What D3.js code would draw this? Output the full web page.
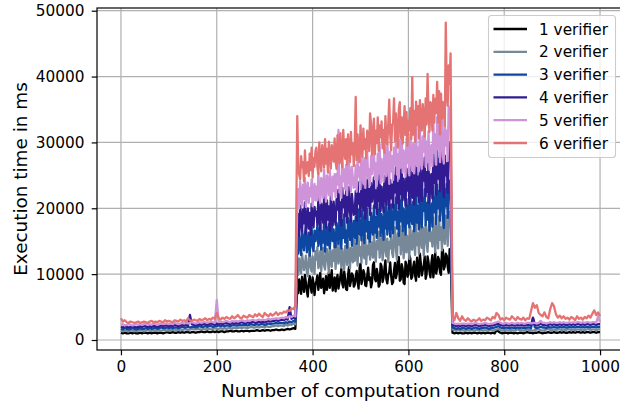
<!DOCTYPE html>
<html>
<head>
<meta charset="utf-8">
<script src="https://cdn.jsdelivr.net/npm/d3@7"></script>
<style>
  body { margin: 0; background: #fff; }
  text { font-family: "DejaVu Sans", sans-serif; fill: #000; }
</style>
</head>
<body>
<div id="chart"></div>
<script>
// rounds: every 4 rounds in the quiet parts, every 2 rounds in the busy part
const rounds = d3.range(0, 368, 4).concat(d3.range(368, 689, 2), d3.range(692, 1001, 4));
const unit = 100; // values below are in units of 100 ms

const labels = ["1 verifier", "2 verifier", "3 verifier", "4 verifier", "5 verifier", "6 verifier"];
const colors = ["#000000", "#778899", "#0d47a1", "#311b92", "#ce93d8", "#e57373"];

const s1 = [
  11,10,11,10,10,11,10,11,10,10, 11,10,11,11,10,11,10,11,11,10, 11,11,10,11,12,11,11,12,11,11,
  12,11,12,11,12,12,11,12,12,11, 12,12,13,12,12,13,12,12,13,12, 13,12,13,13,12,13,13,14,13,13,
  14,13,13,14,13,14,14,13,14,14, 14,15,14,14,15,14,15,15,14,15, 15,16,15,15,16,15,16,17,16,17,
  18,17,
  78,71,92,84,70,96,85,73,99,87,74,66,88,97,81,72,95,86,68,83,
  90,98,76,87,102,79,84,93,71,80,97,76,88,103,79,91,106,75,83,95,
  74,89,99,78,87,96,108,85,80,104,93,77,76,98,111,82,89,101,98,81,
  84,96,105,88,78,109,116,85,92,106,101,83,82,97,110,91,95,80,87,114,
  118,93,89,108,99,81,84,116,112,88,94,109,121,92,86,99,103,118,97,85,
  88,106,117,94,101,122,126,90,92,115,108,87,85,119,114,96,99,128,124,93,
  96,111,119,98,90,125,107,96,131,116,98,106,113,127,93,100,127,118,104,95,
  117,129,95,110,133,101,108,126,122,103,99,135,137,107,112,131,128,111,102,138,
  135,
  11,10,11,10,11,10,10,11,10,11, 10,11,11,10,11,10,11,10,11,11, 10,11,10,15,13,11,10,11,11,10,
  11,11,10,11,10,11,11,10,11,12, 11,11,10,11,11,12,11,10,11,11, 12,11,11,12,11,11,12,11,12,11,
  11,12,11,12,11,12,12,11,12,11, 12,12,11,12,12,11,12,12
];

const s2 = [
  14,13,14,14,13,15,14,13,14,14, 15,14,13,14,15,14,14,15,14,14, 15,14,15,15,14,16,15,15,16,15,
  15,16,15,16,16,15,16,17,16,16, 17,16,16,17,16,17,17,16,17,18, 17,17,18,17,18,17,18,18,17,19,
  18,18,19,18,19,19,18,19,20,19, 19,20,19,20,20,19,21,20,20,21, 21,22,21,22,22,21,23,22,24,23,
  25,24,
  108,99,124,113,101,131,119,106,115,128,103,97,122,133,110,104,127,118,100,135,
  122,141,109,117,135,104,126,140,113,107,131,138,119,102,143,125,111,136,120,144,
  108,130,147,116,125,149,110,138,121,107,143,133,114,150,127,109,140,131,118,152,
  120,146,134,113,157,128,141,117,153,136,124,159,115,143,130,155,122,138,148,125,
  161,131,119,150,138,164,125,147,157,121,134,166,142,127,154,118,149,139,163,132,
  126,158,171,137,122,162,145,173,130,152,167,124,141,169,133,158,148,123,172,140,
  137,166,151,129,178,144,162,131,180,155,140,171,128,160,176,147,134,169,181,150,
  163,142,186,158,133,175,168,139,188,152,171,136,184,160,146,189,176,143,180,195,
  190,
  16,15,14,15,14,15,14,14,15,14, 15,14,15,15,14,15,14,15,14,15, 15,14,15,16,17,15,14,15,15,14,
  15,15,14,15,16,15,15,14,15,16, 15,15,14,15,16,16,15,14,15,16, 17,15,15,16,15,16,16,15,16,15,
  16,16,15,16,15,16,16,15,16,15, 16,17,15,16,16,15,16,16
];

const s3 = [
  17,16,18,17,16,17,18,17,16,17, 18,17,17,18,17,18,17,18,18,17, 18,19,18,18,19,18,19,18,19,19,
  18,19,20,19,19,20,19,20,20,19, 20,21,20,20,21,20,21,21,20,21, 21,22,21,22,21,22,22,21,22,23,
  22,22,23,22,23,23,22,23,24,23, 23,24,23,24,24,23,24,25,24,25, 25,26,25,26,26,25,27,26,28,27,
  29,28,
  140,131,158,147,129,167,152,136,161,172,133,145,163,128,155,170,142,135,166,150,
  160,174,143,152,179,137,165,148,183,134,157,171,144,176,139,162,181,150,168,141,
  141,178,162,146,189,170,139,182,155,191,148,166,140,185,174,152,190,143,169,181,
  155,187,146,172,198,160,183,151,196,176,147,190,165,200,154,179,149,193,170,160,
  204,163,187,155,197,172,208,158,191,178,152,201,169,210,160,186,199,157,206,175,
  162,205,183,216,169,195,158,212,180,218,165,200,188,160,214,177,204,171,219,186,
  176,210,165,192,227,178,204,168,223,187,171,215,196,229,174,208,183,225,166,199,
  207,172,234,194,217,176,236,200,226,181,213,238,190,170,229,203,237,185,221,242,
  238,
  19,18,17,18,17,18,18,17,18,18, 17,18,19,18,17,18,18,19,18,17, 18,18,19,20,21,19,18,18,19,18,
  18,19,18,18,19,18,19,18,18,19, 19,18,33,19,18,19,20,19,19,18, 20,19,19,20,19,19,20,19,20,19,
  19,20,19,20,19,20,20,19,20,19, 20,20,19,20,20,19,20,20
];

const s4 = [
  20,19,21,20,19,20,21,20,19,20, 21,20,21,21,20,21,20,22,21,20, 21,22,21,22,22,21,22,21,23,22,
  21,22,23,22,23,22,38,24,23,22, 23,24,23,24,24,23,24,25,24,23, 25,24,25,24,25,26,25,24,26,25,
  26,25,26,27,26,25,27,26,27,28, 26,27,28,27,28,27,28,29,28,29, 29,30,29,30,31,30,32,31,50,32,
  34,33,
  172,191,158,204,183,165,198,177,209,161,186,200,169,193,160,207,180,171,202,189,
  195,175,216,186,167,207,199,178,220,190,170,212,183,203,166,218,192,174,210,185,
  175,214,198,228,183,209,174,231,202,219,188,226,178,211,232,194,180,222,205,190,
  192,226,181,240,207,222,187,241,213,197,235,184,218,243,203,229,190,238,210,224,
  247,201,227,191,240,211,252,196,233,217,194,249,222,205,254,230,199,243,215,236,
  201,249,224,262,208,238,199,258,221,264,212,245,231,203,260,227,250,206,266,236,
  216,254,206,233,274,219,248,209,270,230,211,263,242,277,218,255,225,272,208,246,
  252,215,284,238,264,220,287,245,275,226,261,289,232,217,280,250,268,224,292,300,
  300,
  23,22,21,22,21,22,22,21,22,22, 21,22,23,22,21,22,22,23,22,21, 22,22,23,24,25,23,22,22,23,22,
  22,23,22,22,23,22,23,22,22,23, 23,22,34,23,22,23,25,23,23,22, 23,24,23,24,23,23,24,23,24,23,
  23,24,23,24,23,24,24,23,24,23, 24,24,23,24,24,23,24,24
];

const s5 = [
  23,24,22,23,24,23,22,23,24,23, 24,23,24,24,23,24,23,25,24,23, 24,25,24,25,25,24,25,24,26,25,
  24,25,26,25,26,25,26,27,26,25, 26,27,26,27,27,26,27,28,27,26, 61,27,28,27,28,29,28,27,29,28,
  29,28,29,30,29,28,30,29,30,31, 29,30,31,30,31,30,31,32,31,32, 32,33,32,33,34,33,35,34,36,35,
  37,36,
  210,229,200,241,219,204,236,214,246,202,225,239,208,231,218,244,203,227,237,212,
  233,212,254,224,208,246,237,216,259,229,210,250,241,220,257,231,213,248,226,252,
  217,252,236,319,224,248,216,270,241,259,229,266,220,255,272,238,226,263,247,231,
  233,265,225,282,248,262,229,283,254,238,276,231,268,286,245,259,235,279,252,270,
  290,244,268,234,283,253,297,238,275,259,240,292,264,249,299,271,237,286,256,279,
  243,292,266,308,251,282,245,304,262,311,254,288,274,248,306,269,296,250,313,279,
  258,298,253,277,322,264,292,256,320,275,260,309,286,325,263,301,270,317,258,290,
  296,264,335,284,312,266,338,290,326,270,305,337,278,268,330,295,318,272,355,340,
  330,
  26,25,24,25,24,25,25,24,25,25, 24,25,26,25,24,25,25,26,25,24, 25,25,26,27,28,26,25,25,26,25,
  25,26,25,25,26,25,26,25,25,26, 26,25,26,26,25,26,29,26,26,25, 26,27,26,27,26,26,27,26,27,26,
  26,27,26,27,26,27,27,26,27,26, 27,27,26,27,27,26,36,27
];

const s6 = [
  33,28,30,27,26,28,27,26,27,28, 26,27,28,27,26,28,29,27,28,27, 29,28,27,30,28,29,28,27,30,29,
  28,31,29,30,28,33,30,29,31,30, 29,32,30,31,33,30,32,31,34,32, 41,33,31,34,32,35,33,32,36,33,
  35,38,34,33,37,35,34,38,36,35, 39,36,40,37,35,41,38,36,40,37, 39,42,38,41,40,43,42,45,44,48,
  47,52,
  340,265,251,244,279,262,270,241,288,253,259,270,249,283,258,292,247,276,263,287,
  292,263,252,300,274,256,296,281,262,305,268,290,254,301,278,260,296,285,271,306,
  271,260,311,285,268,314,279,262,319,290,275,305,266,312,288,270,316,282,298,264,
  300,369,273,312,284,270,326,295,278,321,290,305,276,318,300,287,344,329,281,310,
  336,282,318,299,338,287,326,308,332,291,319,284,340,305,297,329,365,312,288,327,
  329,367,302,344,315,292,350,361,307,338,298,327,355,311,346,295,333,318,352,305,
  399,312,348,301,362,326,355,306,364,333,318,358,340,309,367,327,404,345,316,361,
  358,318,372,330,366,345,392,330,378,312,374,336,361,348,325,482,372,356,417,389,
  435,
  38,30,41,33,29,36,31,29,33,30, 28,31,29,30,33,29,31,30,34,32, 30,35,33,41,38,31,33,30,34,32,
  31,36,33,30,35,32,31,34,30,33, 32,44,56,49,53,41,38,36,42,35, 33,47,56,51,39,34,37,33,36,32,
  34,31,35,33,30,36,32,34,31,35, 33,37,34,40,45,38,42,36
];

const series = [s1, s2, s3, s4, s5, s6];

const xTicks = [0, 200, 400, 600, 800, 1000];
const yTicks = [0, 10000, 20000, 30000, 40000, 50000];

// figure size and margins
const W = 620, H = 405;
const margin = { top: 8, right: -4, bottom: 55, left: 97 };
const width = W - margin.left - margin.right,
  height = H - margin.top - margin.bottom;

const svg = d3
  .select("#chart")
  .append("svg")
  .attr("width", W)
  .attr("height", H);

const g = svg
  .append("g")
  .attr("transform", "translate(" + margin.left + "," + margin.top + ")");

const x = d3.scaleLinear().domain([-50, 1050]).range([0, width]);
const y = d3.scaleLinear().domain([-1518, 50410]).range([height, 0]);

// grid
g.append("g")
  .selectAll("line")
  .data(xTicks)
  .enter()
  .append("line")
  .attr("x1", (d) => x(d))
  .attr("x2", (d) => x(d))
  .attr("y1", 0)
  .attr("y2", height)
  .attr("stroke", "#b0b0b0")
  .attr("stroke-width", 1.2);

g.append("g")
  .selectAll("line")
  .data(yTicks)
  .enter()
  .append("line")
  .attr("x1", 0)
  .attr("x2", width)
  .attr("y1", (d) => y(d))
  .attr("y2", (d) => y(d))
  .attr("stroke", "#b0b0b0")
  .attr("stroke-width", 1.2);

// lines
const line = d3
  .line()
  .x((d, i) => x(rounds[i]))
  .y((d) => y(d * unit));

g.append("g")
  .selectAll("path")
  .data(series)
  .enter()
  .append("path")
  .attr("d", (d) => line(d))
  .attr("fill", "none")
  .attr("stroke", (d, i) => colors[i])
  .attr("stroke-width", 2.3)
  .attr("stroke-linejoin", "round");

// axes
const xAxis = g
  .append("g")
  .attr("transform", "translate(0," + height + ")")
  .call(d3.axisBottom(x).tickValues(xTicks).tickFormat(d3.format("d")).tickSize(5.3).tickPadding(5.6));

const yAxis = g
  .append("g")
  .call(d3.axisLeft(y).tickValues(yTicks).tickFormat(d3.format("d")).tickSize(5.3).tickPadding(7.3));

[xAxis, yAxis].forEach((a) => {
  a.select(".domain").remove();
  a.selectAll("line").attr("stroke", "#000").attr("stroke-width", 1.2);
  a.selectAll("text").style("font-size", "15.3px").style("font-family", "DejaVu Sans");
});

// spines (right one falls outside the picture)
g.append("rect")
  .attr("x", 0)
  .attr("y", 0)
  .attr("width", width)
  .attr("height", height)
  .attr("fill", "none")
  .attr("stroke", "#000")
  .attr("stroke-width", 1.2);

// axis labels
svg
  .append("text")
  .attr("x", margin.left + width / 2)
  .attr("y", 396.5)
  .attr("text-anchor", "middle")
  .style("font-size", "18.4px")
  .text("Number of computation round");

svg
  .append("text")
  .attr("transform", "translate(26.5," + (margin.top + height / 2) + ") rotate(-90)")
  .attr("text-anchor", "middle")
  .style("font-size", "18.4px")
  .text("Execution time in ms");

// legend
const legend = svg.append("g").attr("transform", "translate(488.5,15.5)");
legend
  .append("rect")
  .attr("width", 127)
  .attr("height", 142)
  .attr("rx", 3)
  .attr("fill", "#fff")
  .attr("fill-opacity", 0.8)
  .attr("stroke", "#cccccc")
  .attr("stroke-width", 1.1);

const items = legend
  .selectAll(".item")
  .data(labels)
  .enter()
  .append("g")
  .attr("class", "item")
  .attr("transform", (d, i) => "translate(0," + (13.5 + i * 22.8) + ")");

items
  .append("line")
  .attr("x1", 5)
  .attr("x2", 38.5)
  .attr("stroke", (d, i) => colors[i])
  .attr("stroke-width", 2.3);

items
  .append("text")
  .attr("x", 50.5)
  .attr("dy", "0.36em")
  .style("font-size", "15.3px")
  .text((d) => d);
</script>
</body>
</html>
